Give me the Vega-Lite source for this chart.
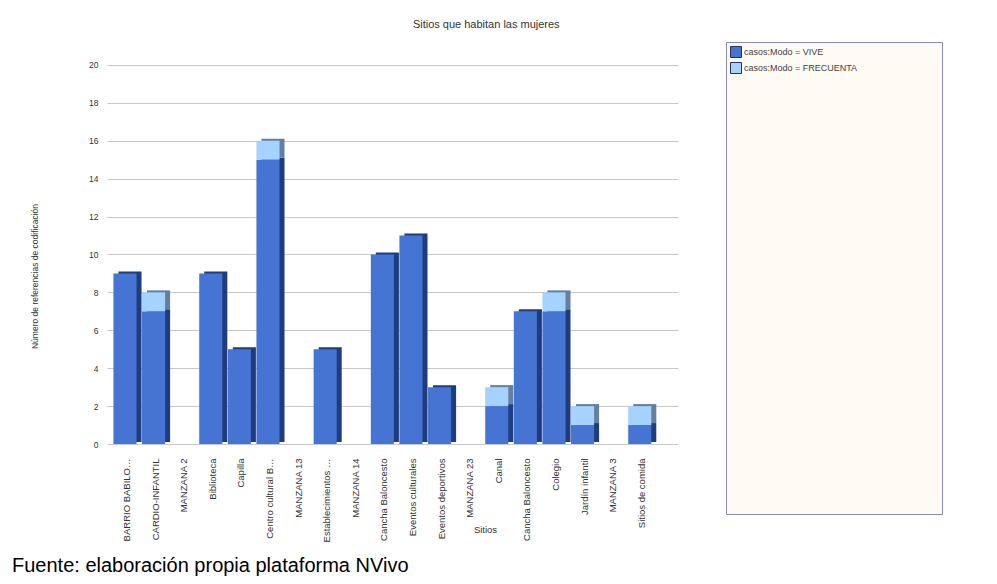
{
  "$schema": "https://vega.github.io/schema/vega-lite/v6.json",
  "padding": {"left": 12, "top": 18, "right": 10, "bottom": 2},
  "background": "white",
  "config": {"font": "Liberation Sans", "title": {"fontWeight": "normal"}},
  "title": {"text": "Fuente: elaboración propia plataforma NVivo", "orient": "bottom", "anchor": "start", "fontSize": 20, "color": "#000000", "fontWeight": "normal", "offset": 14, "dx": -18},
  "datasets": {
    "sitios": [
      {"Sitio": "BARRIO BABILONIA", "Modo": "VIVE", "n": 9},
      {"Sitio": "CARDIO-INFANTIL", "Modo": "VIVE", "n": 7},
      {"Sitio": "CARDIO-INFANTIL", "Modo": "FRECUENTA", "n": 1},
      {"Sitio": "MANZANA 2", "Modo": "VIVE", "n": 0},
      {"Sitio": "Biblioteca", "Modo": "VIVE", "n": 9},
      {"Sitio": "Capilla", "Modo": "VIVE", "n": 5},
      {"Sitio": "Centro cultural Babilonia", "Modo": "VIVE", "n": 15},
      {"Sitio": "Centro cultural Babilonia", "Modo": "FRECUENTA", "n": 1},
      {"Sitio": "MANZANA 13", "Modo": "VIVE", "n": 0},
      {"Sitio": "Establecimientos de compras", "Modo": "VIVE", "n": 5},
      {"Sitio": "MANZANA 14", "Modo": "VIVE", "n": 0},
      {"Sitio": "Cancha Baloncesto", "Modo": "VIVE", "n": 10},
      {"Sitio": "Eventos culturales", "Modo": "VIVE", "n": 11},
      {"Sitio": "Eventos deportivos", "Modo": "VIVE", "n": 3},
      {"Sitio": "MANZANA 23", "Modo": "VIVE", "n": 0},
      {"Sitio": "Canal", "Modo": "VIVE", "n": 2},
      {"Sitio": "Canal", "Modo": "FRECUENTA", "n": 1},
      {"Sitio": "Cancha Baloncesto\u200b", "Modo": "VIVE", "n": 7},
      {"Sitio": "Colegio", "Modo": "VIVE", "n": 7},
      {"Sitio": "Colegio", "Modo": "FRECUENTA", "n": 1},
      {"Sitio": "Jardín infantil", "Modo": "VIVE", "n": 1},
      {"Sitio": "Jardín infantil", "Modo": "FRECUENTA", "n": 1},
      {"Sitio": "MANZANA 3", "Modo": "VIVE", "n": 0},
      {"Sitio": "Sitios de comida", "Modo": "VIVE", "n": 1},
      {"Sitio": "Sitios de comida", "Modo": "FRECUENTA", "n": 1}
    ]
  },
  "vconcat": [
    {
      "title": {"text": "Sitios que habitan las mujeres", "fontSize": 11, "color": "#333333", "anchor": "middle", "offset": 12},
      "spacing": 47,
      "resolve": {"legend": {"color": "independent"}},
      "hconcat": [
        {
          "width": 571,
          "height": 402,
          "data": {"name": "sitios"},
          "view": {"stroke": null},
          "encoding": {
            "x": {
              "field": "Sitio", "type": "nominal", "sort": null,
              "scale": {"paddingInner": 0.05, "paddingOuter": 0.508, "align": 0.22},
              "axis": {
                "title": "Sitios", "labelAngle": -90, "labelAlign": "right", "labelBaseline": "middle",
                "labelPadding": 14, "labelFontSize": 9.5, "labelLimit": 85, "labelColor": "#333333",
                "domain": false, "ticks": false, "tickSize": 0, "grid": false,
                "titleFontSize": 9.5, "titleFontWeight": "normal", "titleColor": "#333333",
                "titleX": 378, "titleY": 88, "titleBaseline": "alphabetic", "titleAlign": "center"
              }
            },
            "y": {
              "field": "n", "type": "quantitative", "stack": "zero",
              "scale": {"domain": [0, 21.21], "nice": false},
              "axis": {
                "title": "Número de referencias de codificación",
                "values": [0, 2, 4, 6, 8, 10, 12, 14, 16, 18, 20],
                "grid": true, "gridColor": "#c8c8c8", "domain": false, "ticks": false, "tickSize": 0,
                "labelPadding": 9, "labelFontSize": 8.5, "labelColor": "#333333",
                "titleFontSize": 8.5, "titleColor": "#333333", "titleFontWeight": "normal",
                "titleX": -68, "titleY": 234
              }
            },
            "order": {"field": "Modo", "sort": "descending"}
          },
          "layer": [
            {
              "mark": {"type": "bar", "xOffset": 3, "yOffset": -2, "width": {"band": 0.85}},
              "encoding": {
                "fill": {"field": "Modo", "type": "nominal", "scale": {"domain": ["VIVE", "FRECUENTA"], "range": ["#1F3C7E", "#62809F"]}, "legend": null}
              }
            },
            {
              "mark": {"type": "bar", "xOffset": -2, "width": {"band": 0.85}},
              "encoding": {
                "color": {"field": "Modo", "type": "nominal", "scale": {"domain": ["VIVE", "FRECUENTA"], "range": ["#4674D2", "#A6D2FF"]}, "legend": null}
              }
            }
          ]
        },
        {
          "width": 216,
          "height": 472,
          "data": {"name": "sitios"},
          "view": {"fill": "#FEFAF4", "stroke": "#8C88C6", "strokeWidth": 1},
          "mark": {"type": "square", "opacity": 0},
          "encoding": {
            "color": {
              "field": "Modo", "type": "nominal",
              "scale": {"domain": ["VIVE", "FRECUENTA"], "range": ["#4674D2", "#A6D2FF"]},
              "legend": {
                "orient": "top-left", "offset": 4, "title": null,
                "labelExpr": "'casos:Modo = ' + datum.label",
                "symbolType": "square", "symbolSize": 121, "symbolOpacity": 1,
                "symbolStrokeColor": "#233256", "symbolStrokeWidth": 1,
                "labelFontSize": 9, "labelColor": "#444444", "labelOffset": 2,
                "rowPadding": 0, "padding": 0
              }
            }
          }
        }
      ]
    }
  ]
}
